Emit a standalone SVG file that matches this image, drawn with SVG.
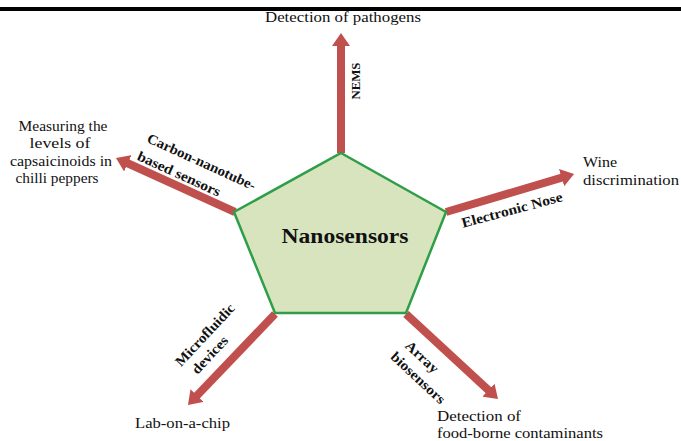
<svg xmlns="http://www.w3.org/2000/svg" width="681" height="441" viewBox="0 0 681 441">
<style>
.t{font-family:'Liberation Serif','DejaVu Serif',serif;font-size:14px;fill:#111}
.b{font-family:'Liberation Serif','DejaVu Serif',serif;font-size:14px;font-weight:bold;fill:#111}
.m{text-anchor:middle}
.arr{stroke:#c0504d;stroke-width:8;fill:none}
</style>
<defs>
<marker id="ah" markerUnits="userSpaceOnUse" markerWidth="13" markerHeight="18" viewBox="0 0 13 18" refX="2" refY="9" orient="auto">
<path d="M0,0 L13,9 L0,18 z" fill="#c0504d"/>
</marker>
</defs>
<rect width="681" height="441" fill="#ffffff"/>
<rect x="0" y="7" width="681" height="4" fill="#000"/>
<g id="connectors">
<line class="arr" x1="341" y1="153" x2="341" y2="44" marker-end="url(#ah)"/>
<line class="arr" x1="235" y1="212" x2="126" y2="162.5" marker-end="url(#ah)"/>
<line class="arr" x1="446" y1="212" x2="563.5" y2="177.1" marker-end="url(#ah)"/>
<line class="arr" x1="275" y1="314" x2="195.6" y2="397" marker-end="url(#ah)"/>
<line class="arr" x1="406" y1="314" x2="489.9" y2="391.5" marker-end="url(#ah)"/>
</g>
<g id="center">
<polygon points="341,153 446,212 406,313 275,313 234,212" fill="#d7e4bd" stroke="#2e9e48" stroke-width="2.5" stroke-linejoin="miter"/>
<text class="b m" x="345" y="243" style="font-size:21px" textLength="127" lengthAdjust="spacingAndGlyphs">Nanosensors</text>
</g>
<g id="pathogens">
<text class="t m" x="343" y="22" textLength="156" lengthAdjust="spacingAndGlyphs">Detection of pathogens</text>
<text class="b m" transform="translate(355,81) rotate(-90)" x="0" y="4.5" style="font-size:13px" textLength="37" lengthAdjust="spacingAndGlyphs">NEMS</text>
</g>
<g id="capsaicinoids">
<text class="t m" x="63" y="131" textLength="89" lengthAdjust="spacingAndGlyphs">Measuring the</text>
<text class="t m" x="60" y="148" textLength="61" lengthAdjust="spacingAndGlyphs">levels of</text>
<text class="t m" x="61" y="166" textLength="102" lengthAdjust="spacingAndGlyphs">capsaicinoids in</text>
<text class="t m" x="57" y="183" textLength="83" lengthAdjust="spacingAndGlyphs">chilli peppers</text>
<text class="b m" transform="translate(201.5,162) rotate(24.5)" x="0" y="4.5" textLength="118" lengthAdjust="spacingAndGlyphs">Carbon-nanotube-</text>
<text class="b m" transform="translate(179,174) rotate(24.5)" x="0" y="4.5" textLength="90" lengthAdjust="spacingAndGlyphs">based sensors</text>
</g>
<g id="wine">
<text class="t" x="583" y="167" textLength="34" lengthAdjust="spacingAndGlyphs">Wine</text>
<text class="t" x="583" y="185" textLength="96" lengthAdjust="spacingAndGlyphs">discrimination</text>
<text class="b m" transform="translate(512,210) rotate(-15)" x="0" y="4.5" textLength="104" lengthAdjust="spacingAndGlyphs">Electronic Nose</text>
</g>
<g id="labchip">
<text class="t" x="135" y="428" textLength="95" lengthAdjust="spacingAndGlyphs">Lab-on-a-chip</text>
<text class="b m" transform="translate(205,335) rotate(-47)" x="0" y="4.5" textLength="80" lengthAdjust="spacingAndGlyphs">Microfluidic</text>
<text class="b m" transform="translate(210,355) rotate(-47)" x="0" y="4.5" textLength="46" lengthAdjust="spacingAndGlyphs">devices</text>
</g>
<g id="foodborne">
<text class="t" x="437" y="421" textLength="84" lengthAdjust="spacingAndGlyphs">Detection of</text>
<text class="t" x="437" y="438" textLength="166" lengthAdjust="spacingAndGlyphs">food-borne contaminants</text>
<text class="b m" transform="translate(422,357) rotate(43)" x="0" y="4.5" textLength="40" lengthAdjust="spacingAndGlyphs">Array</text>
<text class="b m" transform="translate(418,378) rotate(43)" x="0" y="4.5" textLength="69" lengthAdjust="spacingAndGlyphs">biosensors</text>
</g>
</svg>
